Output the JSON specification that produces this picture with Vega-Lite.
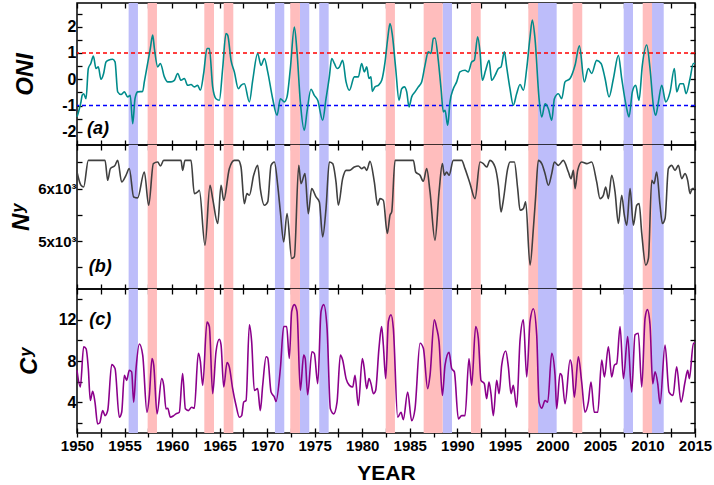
{
  "$schema": "https://vega.github.io/schema/vega-lite/v6.json",
  "padding": {"left": 8, "top": 1, "right": 15, "bottom": 0},
  "autosize": {"type": "pad"},
  "spacing": 0,
  "bounds": "flush",
  "config": {
    "view": {"stroke": "#000000", "strokeWidth": 1.5},
    "font": "Liberation Sans",
    "axis": {"labelFont": "Liberation Sans", "labelFontWeight": "bold", "labelFontSize": 16, "labelColor": "#000000", "titleFont": "Liberation Sans", "titleFontWeight": "bold", "titleColor": "#000000", "tickColor": "#000000", "tickWidth": 1.3, "domain": false, "grid": false, "labelOverlap": false, "labelFlush": false}
  },
  "datasets": {
    "bands": [
      {"start": 1955.43, "end": 1956.41, "type": "La Nina"},
      {"start": 1970.82, "end": 1971.80, "type": "La Nina"},
      {"start": 1973.45, "end": 1974.43, "type": "La Nina"},
      {"start": 1975.48, "end": 1976.47, "type": "La Nina"},
      {"start": 1988.46, "end": 1989.44, "type": "La Nina"},
      {"start": 1998.49, "end": 2000.45, "type": "La Nina"},
      {"start": 2007.50, "end": 2008.48, "type": "La Nina"},
      {"start": 2010.48, "end": 2011.71, "type": "La Nina"},
      {"start": 1957.43, "end": 1958.41, "type": "El Nino"},
      {"start": 1963.39, "end": 1964.41, "type": "El Nino"},
      {"start": 1965.43, "end": 1966.44, "type": "El Nino"},
      {"start": 1972.43, "end": 1973.45, "type": "El Nino"},
      {"start": 1982.47, "end": 1983.44, "type": "El Nino"},
      {"start": 1986.46, "end": 1988.46, "type": "El Nino"},
      {"start": 1991.44, "end": 1992.46, "type": "El Nino"},
      {"start": 1997.47, "end": 1998.49, "type": "El Nino"},
      {"start": 2002.13, "end": 2003.14, "type": "El Nino"},
      {"start": 2009.50, "end": 2010.48, "type": "El Nino"}
    ],
    "thr_hi": [{"v": 1}],
    "thr_lo": [{"v": -1}],
    "labels_a": [{"year": 1952.2, "v": -1.89, "t": "(a)"}],
    "labels_b": [{"year": 1952.45, "v": 4510, "t": "(b)"}],
    "labels_c": [{"year": 1952.45, "v": 12.0, "t": "(c)"}],
    "oni": [
      {"year": 1950.0, "v": -1.43}, {"year": 1950.25, "v": -1.12}, {"year": 1950.42, "v": -0.86}, {"year": 1950.55, "v": -0.6},
      {"year": 1950.7, "v": -0.55}, {"year": 1950.95, "v": -0.74}, {"year": 1951.19, "v": 0.41}, {"year": 1951.45, "v": 0.6},
      {"year": 1951.72, "v": 0.88}, {"year": 1952.0, "v": 0.41}, {"year": 1952.24, "v": 0.47}, {"year": 1952.52, "v": 0.0},
      {"year": 1952.8, "v": 0.22}, {"year": 1953.05, "v": 0.66}, {"year": 1953.3, "v": 0.72}, {"year": 1953.75, "v": 0.76},
      {"year": 1954.0, "v": 0.66}, {"year": 1954.28, "v": -0.48}, {"year": 1954.63, "v": -0.58}, {"year": 1954.98, "v": -0.48},
      {"year": 1955.33, "v": -0.67}, {"year": 1955.6, "v": -0.61}, {"year": 1955.86, "v": -1.69}, {"year": 1956.1, "v": -0.74},
      {"year": 1956.38, "v": -0.48}, {"year": 1956.91, "v": -0.46}, {"year": 1957.08, "v": -0.1}, {"year": 1957.43, "v": 0.6},
      {"year": 1957.71, "v": 1.17}, {"year": 1957.96, "v": 1.68}, {"year": 1958.14, "v": 1.17}, {"year": 1958.49, "v": 0.47},
      {"year": 1958.77, "v": 0.6}, {"year": 1959.19, "v": 0.09}, {"year": 1959.54, "v": -0.1}, {"year": 1959.89, "v": -0.1},
      {"year": 1960.24, "v": -0.04}, {"year": 1960.59, "v": 0.22}, {"year": 1960.94, "v": -0.04}, {"year": 1961.29, "v": 0.03},
      {"year": 1961.64, "v": -0.23}, {"year": 1961.99, "v": -0.2}, {"year": 1962.34, "v": -0.29}, {"year": 1962.69, "v": -0.23},
      {"year": 1962.97, "v": -0.42}, {"year": 1963.32, "v": 0.22}, {"year": 1963.67, "v": 1.17}, {"year": 1963.92, "v": 1.17},
      {"year": 1964.27, "v": -0.29}, {"year": 1964.62, "v": -0.74}, {"year": 1964.97, "v": -0.8}, {"year": 1965.32, "v": 0.41},
      {"year": 1965.67, "v": 1.74}, {"year": 1965.85, "v": 1.68}, {"year": 1966.2, "v": 0.72}, {"year": 1966.55, "v": 0.28},
      {"year": 1966.97, "v": -0.36}, {"year": 1967.25, "v": -0.23}, {"year": 1967.6, "v": -0.17}, {"year": 1968.13, "v": -0.86},
      {"year": 1968.48, "v": -0.04}, {"year": 1969.0, "v": 0.98}, {"year": 1969.35, "v": 0.53}, {"year": 1969.71, "v": 0.79},
      {"year": 1970.06, "v": 0.28}, {"year": 1970.58, "v": -0.74}, {"year": 1971.04, "v": -1.37}, {"year": 1971.39, "v": -0.74},
      {"year": 1971.81, "v": -0.86}, {"year": 1972.09, "v": -0.67}, {"year": 1972.44, "v": 0.41}, {"year": 1972.86, "v": 1.99},
      {"year": 1973.14, "v": 1.04}, {"year": 1973.49, "v": -0.86}, {"year": 1973.91, "v": -1.94}, {"year": 1974.19, "v": -1.24},
      {"year": 1974.61, "v": -0.38}, {"year": 1974.96, "v": -0.61}, {"year": 1975.32, "v": -0.8}, {"year": 1975.84, "v": -1.56},
      {"year": 1976.19, "v": -0.74}, {"year": 1976.54, "v": 0.09}, {"year": 1976.79, "v": 0.79}, {"year": 1977.07, "v": 0.6},
      {"year": 1977.35, "v": 0.41}, {"year": 1977.6, "v": 0.47}, {"year": 1977.94, "v": 0.72}, {"year": 1978.3, "v": -0.1},
      {"year": 1978.65, "v": -0.42}, {"year": 1979.17, "v": 0.09}, {"year": 1979.59, "v": 0.09}, {"year": 1979.94, "v": 0.6},
      {"year": 1980.22, "v": 0.28}, {"year": 1980.47, "v": 0.47}, {"year": 1980.71, "v": 0.03}, {"year": 1980.92, "v": 0.09},
      {"year": 1981.06, "v": -0.46}, {"year": 1981.34, "v": -0.29}, {"year": 1981.69, "v": -0.23}, {"year": 1982.05, "v": -0.04},
      {"year": 1982.4, "v": 0.66}, {"year": 1982.68, "v": 1.55}, {"year": 1982.92, "v": 2.12}, {"year": 1983.17, "v": 1.68},
      {"year": 1983.52, "v": 0.41}, {"year": 1983.87, "v": -0.8}, {"year": 1984.15, "v": -0.36}, {"year": 1984.43, "v": -0.29},
      {"year": 1984.68, "v": -0.48}, {"year": 1984.92, "v": -1.05}, {"year": 1985.2, "v": -0.67}, {"year": 1985.55, "v": -0.48},
      {"year": 1985.9, "v": -0.29}, {"year": 1986.25, "v": -0.1}, {"year": 1986.6, "v": 0.53}, {"year": 1986.95, "v": 1.04},
      {"year": 1987.23, "v": 0.98}, {"year": 1987.48, "v": 1.55}, {"year": 1987.65, "v": 1.57}, {"year": 1988.0, "v": 0.72},
      {"year": 1988.29, "v": -0.36}, {"year": 1988.53, "v": -1.24}, {"year": 1988.71, "v": -1.18}, {"year": 1988.99, "v": -1.75},
      {"year": 1989.23, "v": -0.86}, {"year": 1989.58, "v": -0.36}, {"year": 1989.93, "v": -0.1}, {"year": 1990.28, "v": 0.28},
      {"year": 1990.81, "v": 0.34}, {"year": 1991.16, "v": 0.28}, {"year": 1991.51, "v": 0.66}, {"year": 1991.79, "v": 0.72},
      {"year": 1992.14, "v": 1.61}, {"year": 1992.39, "v": 1.04}, {"year": 1992.63, "v": -0.04}, {"year": 1992.98, "v": 0.34},
      {"year": 1993.34, "v": 0.72}, {"year": 1993.62, "v": -0.04}, {"year": 1993.97, "v": 0.15}, {"year": 1994.32, "v": 0.41},
      {"year": 1994.6, "v": 0.47}, {"year": 1994.95, "v": 1.04}, {"year": 1995.19, "v": 0.47}, {"year": 1995.54, "v": -0.36},
      {"year": 1995.89, "v": -0.99}, {"year": 1996.24, "v": -0.55}, {"year": 1996.6, "v": -0.2}, {"year": 1996.95, "v": -0.42},
      {"year": 1997.3, "v": 0.41}, {"year": 1997.65, "v": 1.61}, {"year": 1997.89, "v": 2.25}, {"year": 1998.17, "v": 1.55},
      {"year": 1998.6, "v": -0.74}, {"year": 1998.88, "v": -1.43}, {"year": 1999.23, "v": -0.93}, {"year": 1999.58, "v": -1.12},
      {"year": 1999.93, "v": -1.56}, {"year": 2000.21, "v": -0.74}, {"year": 2000.63, "v": -0.55}, {"year": 2000.98, "v": -0.74},
      {"year": 2001.33, "v": -0.1}, {"year": 2001.86, "v": 0.03}, {"year": 2002.38, "v": 0.53}, {"year": 2002.84, "v": 1.27},
      {"year": 2003.36, "v": -0.1}, {"year": 2003.78, "v": 0.41}, {"year": 2004.13, "v": 0.22}, {"year": 2004.66, "v": 0.72},
      {"year": 2005.12, "v": 0.6}, {"year": 2005.54, "v": 0.03}, {"year": 2005.96, "v": -0.67}, {"year": 2006.42, "v": 0.03},
      {"year": 2006.94, "v": 0.91}, {"year": 2007.29, "v": 0.03}, {"year": 2007.82, "v": -1.12}, {"year": 2008.06, "v": -1.43},
      {"year": 2008.41, "v": -0.48}, {"year": 2008.76, "v": -0.23}, {"year": 2009.11, "v": -0.8}, {"year": 2009.46, "v": 0.53},
      {"year": 2009.92, "v": 1.3}, {"year": 2010.27, "v": 0.41}, {"year": 2010.62, "v": -1.0}, {"year": 2010.87, "v": -1.37},
      {"year": 2011.15, "v": -0.86}, {"year": 2011.5, "v": -0.23}, {"year": 2011.92, "v": -0.86}, {"year": 2012.38, "v": -0.48},
      {"year": 2012.83, "v": 0.41}, {"year": 2013.08, "v": -0.48}, {"year": 2013.43, "v": -0.17}, {"year": 2013.78, "v": -0.17},
      {"year": 2014.06, "v": -0.55}, {"year": 2014.48, "v": 0.03}, {"year": 2014.83, "v": 0.6}, {"year": 2015.0, "v": 0.6}
    ],
    "ny": [
      {"year": 1950.0, "v": 6316}, {"year": 1950.42, "v": 6063}, {"year": 1950.7, "v": 6032}, {"year": 1951.19, "v": 6538},
      {"year": 1952.95, "v": 6538}, {"year": 1953.23, "v": 6158}, {"year": 1953.51, "v": 6380}, {"year": 1954.0, "v": 6443},
      {"year": 1954.28, "v": 6538}, {"year": 1954.7, "v": 6127}, {"year": 1955.15, "v": 6253}, {"year": 1955.5, "v": 6380},
      {"year": 1955.96, "v": 5842}, {"year": 1956.38, "v": 5823}, {"year": 1957.08, "v": 6316}, {"year": 1957.54, "v": 5684},
      {"year": 1958.03, "v": 6475}, {"year": 1958.49, "v": 6506}, {"year": 1958.77, "v": 6430}, {"year": 1959.12, "v": 6538},
      {"year": 1960.94, "v": 6538}, {"year": 1961.11, "v": 6348}, {"year": 1961.36, "v": 6538}, {"year": 1961.99, "v": 6538},
      {"year": 1962.34, "v": 5905}, {"year": 1962.69, "v": 5937}, {"year": 1962.87, "v": 5968}, {"year": 1963.46, "v": 4924},
      {"year": 1963.99, "v": 6063}, {"year": 1964.27, "v": 5810}, {"year": 1964.8, "v": 5335}, {"year": 1965.15, "v": 6063},
      {"year": 1965.43, "v": 5778}, {"year": 1966.02, "v": 6380}, {"year": 1966.55, "v": 6538}, {"year": 1966.97, "v": 6538},
      {"year": 1967.25, "v": 6411}, {"year": 1967.6, "v": 5715}, {"year": 1967.88, "v": 5905}, {"year": 1968.13, "v": 5873},
      {"year": 1968.58, "v": 6253}, {"year": 1969.0, "v": 6443}, {"year": 1969.28, "v": 6000}, {"year": 1969.71, "v": 5684},
      {"year": 1970.06, "v": 5747}, {"year": 1970.41, "v": 6443}, {"year": 1970.76, "v": 6506}, {"year": 1971.11, "v": 6063},
      {"year": 1971.39, "v": 5557}, {"year": 1971.74, "v": 4987}, {"year": 1972.09, "v": 5525}, {"year": 1972.58, "v": 4671},
      {"year": 1972.86, "v": 4703}, {"year": 1973.32, "v": 6443}, {"year": 1973.56, "v": 6095}, {"year": 1973.98, "v": 6285},
      {"year": 1974.33, "v": 5525}, {"year": 1974.68, "v": 6000}, {"year": 1975.14, "v": 5842}, {"year": 1975.49, "v": 5747},
      {"year": 1975.84, "v": 5082}, {"year": 1976.19, "v": 5620}, {"year": 1976.54, "v": 6506}, {"year": 1976.89, "v": 6475},
      {"year": 1977.24, "v": 6127}, {"year": 1977.49, "v": 5684}, {"year": 1977.94, "v": 6190}, {"year": 1978.3, "v": 6348},
      {"year": 1978.65, "v": 6348}, {"year": 1979.17, "v": 6411}, {"year": 1979.59, "v": 6430}, {"year": 1979.94, "v": 6380},
      {"year": 1980.22, "v": 6411}, {"year": 1980.47, "v": 6348}, {"year": 1980.82, "v": 6519}, {"year": 1981.27, "v": 6127},
      {"year": 1981.62, "v": 5684}, {"year": 1981.87, "v": 5810}, {"year": 1982.22, "v": 5778}, {"year": 1982.64, "v": 5146},
      {"year": 1982.92, "v": 5494}, {"year": 1983.1, "v": 5557}, {"year": 1983.45, "v": 6538}, {"year": 1985.38, "v": 6538},
      {"year": 1985.62, "v": 6316}, {"year": 1986.08, "v": 6253}, {"year": 1986.43, "v": 6139}, {"year": 1986.78, "v": 6380},
      {"year": 1987.13, "v": 5937}, {"year": 1987.65, "v": 5019}, {"year": 1988.08, "v": 5937}, {"year": 1988.43, "v": 6475},
      {"year": 1988.64, "v": 6253}, {"year": 1988.88, "v": 6316}, {"year": 1989.13, "v": 6253}, {"year": 1989.58, "v": 6538},
      {"year": 1990.46, "v": 6538}, {"year": 1990.81, "v": 6380}, {"year": 1991.34, "v": 6095}, {"year": 1991.86, "v": 5810},
      {"year": 1992.39, "v": 6506}, {"year": 1992.74, "v": 6475}, {"year": 1993.09, "v": 6411}, {"year": 1993.44, "v": 6538},
      {"year": 1993.97, "v": 6411}, {"year": 1994.32, "v": 6063}, {"year": 1994.6, "v": 5557}, {"year": 1994.84, "v": 5778},
      {"year": 1995.3, "v": 6380}, {"year": 1995.54, "v": 6506}, {"year": 1996.0, "v": 6506}, {"year": 1996.35, "v": 6000},
      {"year": 1996.6, "v": 5589}, {"year": 1996.95, "v": 5620}, {"year": 1997.19, "v": 5747}, {"year": 1997.65, "v": 4544},
      {"year": 1998.0, "v": 5241}, {"year": 1998.24, "v": 5842}, {"year": 1998.52, "v": 6538}, {"year": 1998.88, "v": 6475},
      {"year": 1999.23, "v": 6285}, {"year": 1999.58, "v": 6063}, {"year": 1999.93, "v": 6285}, {"year": 2000.21, "v": 6506},
      {"year": 2000.63, "v": 6443}, {"year": 2001.15, "v": 6538}, {"year": 2001.68, "v": 6316}, {"year": 2001.96, "v": 6190},
      {"year": 2002.21, "v": 6348}, {"year": 2002.38, "v": 6000}, {"year": 2002.66, "v": 6348}, {"year": 2003.08, "v": 6506},
      {"year": 2003.61, "v": 6475}, {"year": 2004.13, "v": 6506}, {"year": 2004.66, "v": 6127}, {"year": 2005.01, "v": 5810},
      {"year": 2005.36, "v": 5873}, {"year": 2005.61, "v": 6032}, {"year": 2005.89, "v": 5810}, {"year": 2006.24, "v": 6253},
      {"year": 2006.59, "v": 5937}, {"year": 2006.94, "v": 5335}, {"year": 2007.29, "v": 5873}, {"year": 2007.57, "v": 5494},
      {"year": 2007.82, "v": 5304}, {"year": 2008.17, "v": 6000}, {"year": 2008.52, "v": 5304}, {"year": 2008.87, "v": 5684},
      {"year": 2009.12, "v": 5715}, {"year": 2009.4, "v": 5146}, {"year": 2009.82, "v": 4544}, {"year": 2010.1, "v": 4671},
      {"year": 2010.45, "v": 6158}, {"year": 2010.69, "v": 6095}, {"year": 2010.97, "v": 6316}, {"year": 2011.32, "v": 5684},
      {"year": 2011.57, "v": 5335}, {"year": 2011.85, "v": 5430}, {"year": 2012.2, "v": 6380}, {"year": 2012.55, "v": 6443},
      {"year": 2012.9, "v": 6348}, {"year": 2013.25, "v": 6443}, {"year": 2013.6, "v": 6190}, {"year": 2013.95, "v": 6285},
      {"year": 2014.23, "v": 6158}, {"year": 2014.48, "v": 5905}, {"year": 2014.72, "v": 6000}, {"year": 2015.0, "v": 6000}
    ],
    "cy": [
      {"year": 1950.0, "v": 7.1}, {"year": 1950.35, "v": 5.47}, {"year": 1950.7, "v": 9.39}, {"year": 1950.95, "v": 9.2},
      {"year": 1951.19, "v": 7.27}, {"year": 1951.4, "v": 4.16}, {"year": 1951.65, "v": 5.05}, {"year": 1951.89, "v": 4.0},
      {"year": 1952.17, "v": 1.88}, {"year": 1952.38, "v": 1.97}, {"year": 1952.7, "v": 3.18}, {"year": 1952.95, "v": 2.69},
      {"year": 1953.23, "v": 3.18}, {"year": 1953.65, "v": 7.66}, {"year": 1954.0, "v": 7.27}, {"year": 1954.45, "v": 2.53},
      {"year": 1954.7, "v": 3.02}, {"year": 1954.98, "v": 6.61}, {"year": 1955.22, "v": 6.12}, {"year": 1955.5, "v": 7.1},
      {"year": 1955.75, "v": 6.94}, {"year": 1955.96, "v": 4.0}, {"year": 1956.21, "v": 7.27}, {"year": 1956.56, "v": 9.65},
      {"year": 1956.91, "v": 8.57}, {"year": 1957.36, "v": 3.02}, {"year": 1957.61, "v": 4.65}, {"year": 1957.89, "v": 8.25},
      {"year": 1958.07, "v": 7.6}, {"year": 1958.42, "v": 2.86}, {"year": 1958.91, "v": 6.29}, {"year": 1959.12, "v": 5.63},
      {"year": 1959.36, "v": 3.35}, {"year": 1959.55, "v": 3.4}, {"year": 1959.82, "v": 2.53}, {"year": 1960.17, "v": 2.69},
      {"year": 1960.41, "v": 2.86}, {"year": 1960.76, "v": 3.02}, {"year": 1961.11, "v": 6.78}, {"year": 1961.4, "v": 3.35},
      {"year": 1961.71, "v": 3.18}, {"year": 1962.06, "v": 3.51}, {"year": 1962.34, "v": 3.4}, {"year": 1962.76, "v": 8.74},
      {"year": 1962.97, "v": 8.0}, {"year": 1963.22, "v": 5.63}, {"year": 1963.67, "v": 11.78}, {"year": 1963.92, "v": 11.35},
      {"year": 1964.27, "v": 4.82}, {"year": 1964.62, "v": 8.9}, {"year": 1964.97, "v": 10.11}, {"year": 1965.15, "v": 9.56},
      {"year": 1965.43, "v": 5.47}, {"year": 1965.78, "v": 7.86}, {"year": 1966.02, "v": 7.43}, {"year": 1966.37, "v": 5.31},
      {"year": 1966.73, "v": 3.67}, {"year": 1967.08, "v": 2.53}, {"year": 1967.32, "v": 2.69}, {"year": 1967.53, "v": 4.0},
      {"year": 1967.78, "v": 4.16}, {"year": 1968.13, "v": 11.52}, {"year": 1968.37, "v": 9.88}, {"year": 1968.65, "v": 5.14},
      {"year": 1969.0, "v": 5.31}, {"year": 1969.28, "v": 3.18}, {"year": 1969.53, "v": 5.63}, {"year": 1969.89, "v": 8.41},
      {"year": 1970.06, "v": 8.3}, {"year": 1970.41, "v": 4.98}, {"year": 1970.76, "v": 4.49}, {"year": 1970.93, "v": 4.07},
      {"year": 1971.39, "v": 7.27}, {"year": 1971.74, "v": 11.35}, {"year": 1972.05, "v": 11.35}, {"year": 1972.33, "v": 8.25},
      {"year": 1972.58, "v": 12.82}, {"year": 1972.86, "v": 13.48}, {"year": 1973.14, "v": 12.82}, {"year": 1973.49, "v": 5.14},
      {"year": 1973.84, "v": 8.57}, {"year": 1974.0, "v": 8.25}, {"year": 1974.26, "v": 4.72}, {"year": 1974.71, "v": 8.9},
      {"year": 1974.96, "v": 8.74}, {"year": 1975.32, "v": 5.8}, {"year": 1975.67, "v": 12.82}, {"year": 1975.95, "v": 13.48},
      {"year": 1976.3, "v": 11.2}, {"year": 1976.65, "v": 3.35}, {"year": 1977.0, "v": 2.86}, {"year": 1977.35, "v": 4.0},
      {"year": 1977.7, "v": 8.57}, {"year": 1977.94, "v": 8.09}, {"year": 1978.3, "v": 6.29}, {"year": 1978.65, "v": 5.63},
      {"year": 1979.0, "v": 5.47}, {"year": 1979.24, "v": 6.61}, {"year": 1979.59, "v": 3.67}, {"year": 1980.01, "v": 8.25},
      {"year": 1980.19, "v": 7.43}, {"year": 1980.47, "v": 5.31}, {"year": 1980.71, "v": 6.29}, {"year": 1980.92, "v": 5.8},
      {"year": 1981.17, "v": 4.82}, {"year": 1981.41, "v": 5.14}, {"year": 1981.76, "v": 9.23}, {"year": 1982.04, "v": 11.35},
      {"year": 1982.22, "v": 9.56}, {"year": 1982.47, "v": 6.29}, {"year": 1982.75, "v": 11.84}, {"year": 1983.03, "v": 12.5},
      {"year": 1983.27, "v": 11.2}, {"year": 1983.73, "v": 2.53}, {"year": 1984.08, "v": 3.02}, {"year": 1984.32, "v": 2.3},
      {"year": 1984.78, "v": 4.98}, {"year": 1985.2, "v": 2.2}, {"year": 1985.55, "v": 3.35}, {"year": 1986.08, "v": 9.72},
      {"year": 1986.43, "v": 9.23}, {"year": 1986.88, "v": 5.31}, {"year": 1987.13, "v": 6.61}, {"year": 1987.58, "v": 12.0},
      {"year": 1987.83, "v": 11.2}, {"year": 1988.08, "v": 9.88}, {"year": 1988.43, "v": 4.65}, {"year": 1988.71, "v": 7.6},
      {"year": 1989.13, "v": 8.84}, {"year": 1989.41, "v": 7.27}, {"year": 1989.69, "v": 6.94}, {"year": 1990.11, "v": 2.37},
      {"year": 1990.46, "v": 2.69}, {"year": 1990.81, "v": 2.69}, {"year": 1991.23, "v": 8.25}, {"year": 1991.51, "v": 5.63},
      {"year": 1991.93, "v": 11.35}, {"year": 1992.21, "v": 10.2}, {"year": 1992.49, "v": 6.12}, {"year": 1992.84, "v": 5.8},
      {"year": 1993.09, "v": 4.33}, {"year": 1993.33, "v": 5.96}, {"year": 1993.54, "v": 4.82}, {"year": 1993.79, "v": 2.69},
      {"year": 1994.14, "v": 6.12}, {"year": 1994.39, "v": 4.82}, {"year": 1994.67, "v": 7.6}, {"year": 1995.09, "v": 8.97},
      {"year": 1995.37, "v": 7.43}, {"year": 1995.65, "v": 4.82}, {"year": 1995.89, "v": 5.63}, {"year": 1996.24, "v": 3.51},
      {"year": 1996.6, "v": 10.05}, {"year": 1996.95, "v": 12.0}, {"year": 1997.3, "v": 6.45}, {"year": 1997.65, "v": 11.84},
      {"year": 1998.0, "v": 13.08}, {"year": 1998.35, "v": 10.54}, {"year": 1998.6, "v": 4.0}, {"year": 1998.88, "v": 3.41},
      {"year": 1999.23, "v": 4.16}, {"year": 1999.51, "v": 4.0}, {"year": 1999.93, "v": 8.74}, {"year": 2000.28, "v": 6.61},
      {"year": 2000.45, "v": 3.35}, {"year": 2000.8, "v": 6.78}, {"year": 2000.98, "v": 6.61}, {"year": 2001.33, "v": 3.84},
      {"year": 2001.86, "v": 8.09}, {"year": 2002.03, "v": 7.6}, {"year": 2002.31, "v": 4.49}, {"year": 2002.73, "v": 8.41},
      {"year": 2003.08, "v": 5.96}, {"year": 2003.43, "v": 3.02}, {"year": 2003.78, "v": 4.0}, {"year": 2004.06, "v": 5.96},
      {"year": 2004.41, "v": 3.02}, {"year": 2004.77, "v": 3.02}, {"year": 2005.19, "v": 8.09}, {"year": 2005.47, "v": 6.45},
      {"year": 2005.89, "v": 9.39}, {"year": 2006.24, "v": 6.45}, {"year": 2006.52, "v": 7.6}, {"year": 2006.77, "v": 7.76},
      {"year": 2007.12, "v": 11.35}, {"year": 2007.47, "v": 6.29}, {"year": 2007.92, "v": 10.37}, {"year": 2008.34, "v": 4.98},
      {"year": 2008.69, "v": 10.54}, {"year": 2009.04, "v": 10.7}, {"year": 2009.4, "v": 5.47}, {"year": 2009.75, "v": 12.17},
      {"year": 2010.0, "v": 12.99}, {"year": 2010.27, "v": 11.52}, {"year": 2010.55, "v": 5.8}, {"year": 2010.8, "v": 6.94},
      {"year": 2011.08, "v": 5.8}, {"year": 2011.32, "v": 3.84}, {"year": 2011.85, "v": 9.56}, {"year": 2012.27, "v": 4.98},
      {"year": 2012.69, "v": 4.65}, {"year": 2013.07, "v": 7.43}, {"year": 2013.53, "v": 4.0}, {"year": 2013.95, "v": 5.96},
      {"year": 2014.23, "v": 7.1}, {"year": 2014.41, "v": 6.29}, {"year": 2014.83, "v": 9.72}, {"year": 2015.0, "v": 9.72}
    ]
  },
  "vconcat": [
    {
      "width": 618, "height": 142,
      "resolve": {"axis": {"x": "independent", "y": "independent"}},
      "layer": [
        {
          "data": {"name": "bands"},
          "mark": {"type": "rect"},
          "encoding": {
            "x": {"field": "start", "type": "quantitative", "scale": {"domain": [1950, 2015], "nice": false, "zero": false},
                  "axis": {"orient": "bottom", "values": [1950,1952.5,1955,1957.5,1960,1962.5,1965,1967.5,1970,1972.5,1975,1977.5,1980,1982.5,1985,1987.5,1990,1992.5,1995,1997.5,2000,2002.5,2005,2007.5,2010,2012.5,2015], "labels": false, "title": null, "tickSize": -5}},
            "x2": {"field": "end"},
            "color": {"field": "type", "type": "nominal", "scale": {"domain": ["El Nino", "La Nina"], "range": ["#ffbdbd", "#bdbdfa"]}, "legend": null}
          }
        },
        {
          "data": {"name": "thr_hi"},
          "mark": {"type": "rule", "strokeDash": [4, 3], "strokeWidth": 1.5, "color": "#ff0000"},
          "encoding": {
            "y": {"field": "v", "type": "quantitative", "scale": {"domain": [-2.5, 2.9], "nice": false, "zero": false}, "axis": null}
          }
        },
        {
          "data": {"name": "thr_lo"},
          "mark": {"type": "rule", "strokeDash": [4, 3], "strokeWidth": 1.5, "color": "#0000ff"},
          "encoding": {
            "y": {"field": "v", "type": "quantitative", "axis": null}
          }
        },
        {
          "data": {"name": "oni"},
          "mark": {"type": "line", "color": "#008b8b", "strokeWidth": 1.6, "interpolate": "monotone"},
          "encoding": {
            "x": {"field": "year", "type": "quantitative", "axis": null},
            "y": {"field": "v", "type": "quantitative", "scale": {"domain": [-2.5, 2.9], "nice": false, "zero": false},
                  "axis": {"orient": "left", "values": [-2,-1.5,-1,-0.5,0,0.5,1,1.5,2,2.5], "labelExpr": "datum.value % 1 === 0 ? '' + datum.value : ''", "tickSize": -5, "labelPadding": 6, "title": "ONI", "titleFontSize": 24, "titleFontStyle": "italic", "titlePadding": 24}}
          }
        },
        {
          "data": {"name": "oni"},
          "mark": {"type": "line", "opacity": 0},
          "encoding": {
            "x": {"field": "year", "type": "quantitative", "axis": {"orient": "top", "values": [1950,1952.5,1955,1957.5,1960,1962.5,1965,1967.5,1970,1972.5,1975,1977.5,1980,1982.5,1985,1987.5,1990,1992.5,1995,1997.5,2000,2002.5,2005,2007.5,2010,2012.5,2015], "labels": false, "title": null, "tickSize": -5}},
            "y": {"field": "v", "type": "quantitative", "axis": {"orient": "right", "values": [-2,-1.5,-1,-0.5,0,0.5,1,1.5,2,2.5], "labels": false, "title": null, "tickSize": -5}}
          }
        },
        {
          "data": {"name": "labels_a"},
          "mark": {"type": "text", "fontSize": 18, "fontWeight": "bold", "fontStyle": "italic", "font": "Liberation Sans", "color": "#000000"},
          "encoding": {
            "x": {"field": "year", "type": "quantitative", "axis": null},
            "y": {"field": "v", "type": "quantitative", "axis": null},
            "text": {"field": "t"}
          }
        }
      ]
    },
    {
      "width": 618, "height": 144,
      "resolve": {"axis": {"x": "independent", "y": "independent"}},
      "layer": [
        {
          "data": {"name": "bands"},
          "mark": {"type": "rect"},
          "encoding": {
            "x": {"field": "start", "type": "quantitative", "scale": {"domain": [1950, 2015], "nice": false, "zero": false},
                  "axis": {"orient": "bottom", "values": [1950,1952.5,1955,1957.5,1960,1962.5,1965,1967.5,1970,1972.5,1975,1977.5,1980,1982.5,1985,1987.5,1990,1992.5,1995,1997.5,2000,2002.5,2005,2007.5,2010,2012.5,2015], "labels": false, "title": null, "tickSize": -5}},
            "x2": {"field": "end"},
            "color": {"field": "type", "type": "nominal", "scale": {"domain": ["El Nino", "La Nina"], "range": ["#ffbdbd", "#bdbdfa"]}, "legend": null}
          }
        },
        {
          "data": {"name": "ny"},
          "mark": {"type": "line", "color": "#404040", "strokeWidth": 1.6, "interpolate": "monotone"},
          "encoding": {
            "x": {"field": "year", "type": "quantitative", "axis": null},
            "y": {"field": "v", "type": "quantitative", "scale": {"domain": [4090, 6830], "nice": false, "zero": false},
                  "axis": {"orient": "left", "values": [4500, 5000, 5500, 6000, 6500], "labelExpr": "datum.value === 6000 ? '6x10³' : datum.value === 5000 ? '5x10³' : ''", "labelFontSize": 15, "tickSize": -5, "labelPadding": 6, "title": "Nʸ", "titleFontSize": 24, "titleFontStyle": "italic", "titlePadding": 4}}
          }
        },
        {
          "data": {"name": "ny"},
          "mark": {"type": "line", "opacity": 0},
          "encoding": {
            "x": {"field": "year", "type": "quantitative", "axis": {"orient": "top", "values": [1950,1952.5,1955,1957.5,1960,1962.5,1965,1967.5,1970,1972.5,1975,1977.5,1980,1982.5,1985,1987.5,1990,1992.5,1995,1997.5,2000,2002.5,2005,2007.5,2010,2012.5,2015], "labels": false, "title": null, "tickSize": -5}},
            "y": {"field": "v", "type": "quantitative", "axis": {"orient": "right", "values": [4500, 5000, 5500, 6000, 6500], "labels": false, "title": null, "tickSize": -5}}
          }
        },
        {
          "data": {"name": "labels_b"},
          "mark": {"type": "text", "fontSize": 18, "fontWeight": "bold", "fontStyle": "italic", "font": "Liberation Sans", "color": "#000000"},
          "encoding": {
            "x": {"field": "year", "type": "quantitative", "axis": null},
            "y": {"field": "v", "type": "quantitative", "axis": null},
            "text": {"field": "t"}
          }
        }
      ]
    },
    {
      "width": 618, "height": 144,
      "resolve": {"axis": {"x": "independent", "y": "independent"}},
      "layer": [
        {
          "data": {"name": "bands"},
          "mark": {"type": "rect"},
          "encoding": {
            "x": {"field": "start", "type": "quantitative", "scale": {"domain": [1950, 2015], "nice": false, "zero": false},
                  "axis": {"orient": "bottom", "values": [1950,1952.5,1955,1957.5,1960,1962.5,1965,1967.5,1970,1972.5,1975,1977.5,1980,1982.5,1985,1987.5,1990,1992.5,1995,1997.5,2000,2002.5,2005,2007.5,2010,2012.5,2015], "labelExpr": "datum.value % 5 === 0 ? '' + datum.value : ''", "labelFontSize": 15, "tickSize": 4, "labelPadding": 1, "title": "YEAR", "titleFontSize": 21, "titlePadding": 9}},
            "x2": {"field": "end"},
            "color": {"field": "type", "type": "nominal", "scale": {"domain": ["El Nino", "La Nina"], "range": ["#ffbdbd", "#bdbdfa"]}, "legend": null}
          }
        },
        {
          "data": {"name": "cy"},
          "mark": {"type": "line", "color": "#8b008b", "strokeWidth": 1.6, "interpolate": "monotone"},
          "encoding": {
            "x": {"field": "year", "type": "quantitative", "axis": null},
            "y": {"field": "v", "type": "quantitative", "scale": {"domain": [1, 15], "nice": false, "zero": false},
                  "axis": {"orient": "left", "values": [2, 4, 6, 8, 10, 12, 14], "labelExpr": "datum.value % 4 === 0 ? '' + datum.value : ''", "tickSize": -5, "labelPadding": 6, "title": "Cʸ", "titleFontSize": 24, "titleFontStyle": "italic", "titlePadding": 17}}
          }
        },
        {
          "data": {"name": "cy"},
          "mark": {"type": "line", "opacity": 0},
          "encoding": {
            "x": {"field": "year", "type": "quantitative", "axis": {"orient": "top", "values": [1950,1952.5,1955,1957.5,1960,1962.5,1965,1967.5,1970,1972.5,1975,1977.5,1980,1982.5,1985,1987.5,1990,1992.5,1995,1997.5,2000,2002.5,2005,2007.5,2010,2012.5,2015], "labels": false, "title": null, "tickSize": -5}},
            "y": {"field": "v", "type": "quantitative", "axis": {"orient": "right", "values": [2, 4, 6, 8, 10, 12, 14], "labels": false, "title": null, "tickSize": -5}}
          }
        },
        {
          "data": {"name": "cy"},
          "mark": {"type": "line", "opacity": 0},
          "encoding": {
            "x": {"field": "year", "type": "quantitative", "axis": {"orient": "bottom", "values": [1950,1952.5,1955,1957.5,1960,1962.5,1965,1967.5,1970,1972.5,1975,1977.5,1980,1982.5,1985,1987.5,1990,1992.5,1995,1997.5,2000,2002.5,2005,2007.5,2010,2012.5,2015], "labels": false, "title": null, "tickSize": -5}},
            "y": {"field": "v", "type": "quantitative", "axis": null}
          }
        },
        {
          "data": {"name": "labels_c"},
          "mark": {"type": "text", "fontSize": 18, "fontWeight": "bold", "fontStyle": "italic", "font": "Liberation Sans", "color": "#000000"},
          "encoding": {
            "x": {"field": "year", "type": "quantitative", "axis": null},
            "y": {"field": "v", "type": "quantitative", "axis": null},
            "text": {"field": "t"}
          }
        }
      ]
    }
  ]
}
